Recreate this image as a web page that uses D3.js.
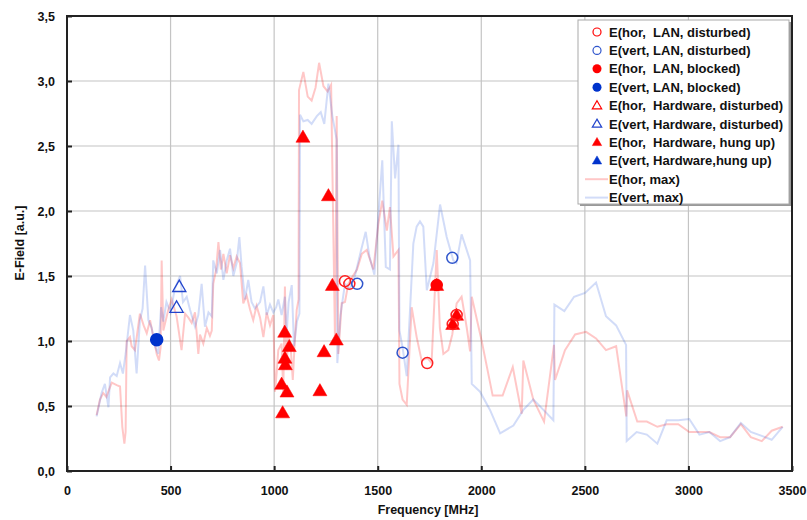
<!DOCTYPE html>
<html>
<head>
<meta charset="utf-8">
<script src="https://cdn.jsdelivr.net/npm/d3@7"></script>
<style>
  body { margin: 0; background: #fff; }
  text { font-family: Arial, "Liberation Sans", sans-serif; font-weight: bold; fill: #111; }
</style>
</head>
<body>
<div id="chart"></div>
<script>
// values
var horFreq = [143,159,175,190,216,240,256,267,277,283,288,304,312,328,352,370,385,401,417,433,444,452,457,465,489,505,529,553,570,586,602,618,634,642,658,675,690,699,706,720,731,743,755,771,787,803,819,835,851,867,884,899,915,932,948,964,980,996,1004,1012,1020,1036,1044,1052,1060,1068,1080,1090,1100,1109,1118,1120,1141,1162,1181,1200,1217,1238,1258,1275,1294,1302,1310,1326,1342,1358,1380,1400,1423,1447,1479,1503,1522,1544,1559,1576,1600,1605,1620,1640,1664,1688,1712,1740,1760,1785,1800,1817,1841,1860,1881,1905,1930,1946,1954,2002,2055,2103,2152,2195,2203,2251,2303,2351,2356,2404,2453,2506,2554,2602,2651,2700,2704,2753,2799,2850,2895,2951,3004,3053,3101,3153,3201,3253,3301,3354,3402,3455]
var horMax = [0.43,0.55,0.60,0.57,0.68,0.66,0.65,0.34,0.21,0.30,1.00,1.03,0.96,0.93,1.21,1.12,1.06,1.16,1.03,0.90,0.85,0.95,1.62,1.08,1.24,1.32,1.19,0.93,1.21,1.18,1.14,1.22,0.90,1.05,0.98,1.10,1.04,1.08,1.44,1.55,1.76,1.55,1.67,1.52,1.66,1.56,1.65,1.60,1.29,1.35,1.24,1.16,1.27,1.18,1.03,1.22,1.12,1.20,0.61,0.75,0.93,0.98,0.60,1.42,0.78,1.05,0.95,0.70,1.01,1.24,1.32,2.93,3.07,2.88,2.85,2.95,3.14,2.96,2.92,2.97,0.98,2.73,0.90,1.29,1.30,1.44,1.50,1.55,1.67,1.70,1.55,1.90,2.08,1.85,2.03,1.65,1.70,0.67,0.55,0.51,1.26,1.03,0.85,0.87,0.83,1.70,1.10,0.90,0.93,1.05,1.29,1.34,1.10,0.92,1.34,1.00,0.58,0.58,0.80,0.44,0.85,0.55,0.38,0.97,0.70,0.93,1.05,1.07,1.02,0.93,0.96,0.42,0.62,0.38,0.38,0.34,0.36,0.36,0.30,0.30,0.30,0.26,0.26,0.36,0.26,0.23,0.31,0.34]

var vertFreq = [143,167,183,200,208,224,240,256,270,283,304,320,336,352,365,377,393,409,425,440,454,465,480,500,520,546,560,578,594,618,634,650,666,683,699,706,723,739,755,771,787,803,819,832,843,859,875,891,907,932,948,964,980,996,1010,1020,1036,1052,1060,1070,1085,1096,1110,1122,1125,1141,1162,1181,1206,1225,1242,1262,1281,1302,1305,1320,1342,1365,1390,1420,1442,1460,1484,1503,1522,1539,1559,1568,1584,1600,1605,1620,1640,1672,1688,1704,1720,1737,1769,1801,1833,1865,1880,1905,1946,1954,1994,2042,2091,2155,2203,2251,2300,2348,2353,2401,2448,2501,2554,2602,2651,2699,2702,2750,2799,2850,2895,2951,3004,3053,3101,3153,3201,3253,3301,3354,3402,3455]
var vertMax = [0.42,0.60,0.67,0.49,0.72,0.75,0.73,0.83,0.75,0.90,1.20,1.08,0.75,1.16,1.25,1.58,1.16,1.10,0.96,0.90,1.26,1.15,1.30,1.22,1.40,1.50,1.30,1.34,1.24,1.11,1.20,1.44,1.11,1.22,1.19,1.62,1.52,1.70,1.47,1.62,1.71,1.50,1.60,1.80,1.57,1.32,1.47,1.30,1.25,1.30,1.42,1.20,1.28,1.22,1.26,1.32,1.20,1.34,1.05,1.30,1.43,0.96,1.15,1.21,2.74,2.69,2.70,2.67,2.73,2.76,2.67,2.98,2.73,2.55,0.83,1.20,1.44,1.40,1.50,1.70,1.84,1.65,1.51,1.96,2.39,1.57,1.55,2.69,2.25,2.51,1.08,0.95,0.73,1.75,1.88,1.92,1.88,1.39,1.60,2.05,1.80,1.62,1.60,1.82,1.62,0.67,0.61,0.47,0.29,0.35,0.47,0.55,0.47,0.39,1.28,1.23,1.34,1.37,1.45,1.19,1.12,0.97,0.23,0.30,0.28,0.21,0.39,0.39,0.40,0.28,0.30,0.23,0.26,0.37,0.30,0.27,0.24,0.34]

// markers [freq, value]
var horLanDisturbed = [[1342,1.46],[1363,1.44],[1739,0.83],[1862,1.13],[1881,1.20]]
var vertLanDisturbed = [[1401,1.44],[1620,0.91],[1860,1.64]]
var horLanBlocked = [[1785,1.43]]
var vertLanBlocked = [[433,1.01]]
var horHwDisturbed = []
var vertHwDisturbed = [[542,1.41],[529,1.25]]
var horHwHung = [[1139,2.56],[1262,2.11],[1051,1.06],[1073,0.95],[1052,0.86],[1054,0.81],[1036,0.66],[1062,0.60],[1041,0.44],[1221,0.61],[1241,0.91],[1300,1.00],[1281,1.42],[1785,1.42],[1862,1.12],[1881,1.19]]
var vertHwHung = []

var xTicks = [0,500,1000,1500,2000,2500,3000,3500]
var yTicks = [0,0.5,1,1.5,2,2.5,3,3.5]

var legendLabels = ["E(hor,  LAN, disturbed)","E(vert, LAN, disturbed)","E(hor,  LAN, blocked)","E(vert, LAN, blocked)",
  "E(hor,  Hardware, disturbed)","E(vert, Hardware, disturbed)","E(hor,  Hardware, hung up)","E(vert, Hardware,hung up)",
  "E(hor, max)","E(vert, max)"]

var W = 807, H = 520
var red = "#ff0000", blue = "#0033cc"

var svg = d3.select("#chart").append("svg").attr("width", W).attr("height", H)

var x = d3.scaleLinear().domain([0, 3500]).range([67, 792])
var y = d3.scaleLinear().domain([0, 3.5]).range([471, 16])

// grid
svg.append("g").selectAll("line").data(xTicks.slice(1, -1)).enter().append("line")
  .attr("x1", d => x(d)).attr("x2", d => x(d)).attr("y1", y(3.5)).attr("y2", y(0))
  .attr("stroke", "#c4c4c4").attr("stroke-width", 1.2)
svg.append("g").selectAll("line").data(yTicks.slice(1, -1)).enter().append("line")
  .attr("x1", x(0)).attr("x2", x(3500)).attr("y1", d => y(d)).attr("y2", d => y(d))
  .attr("stroke", "#c4c4c4").attr("stroke-width", 1.2)

// lines
var line = d3.line().x(d => x(d[0])).y(d => y(d[1]))
var horData = horFreq.map((f, i) => [f, horMax[i]])
var vertData = vertFreq.map((f, i) => [f, vertMax[i]])
svg.append("path").datum(horData).attr("d", line)
  .attr("fill", "none").attr("stroke", red).attr("stroke-opacity", 0.22).attr("stroke-width", 2)
svg.append("path").datum(vertData).attr("d", line)
  .attr("fill", "none").attr("stroke", "#3060e0").attr("stroke-opacity", 0.22).attr("stroke-width", 2)

// axes
var fmt = d => d.toFixed(1).replace(".", ",")
var xAxis = svg.append("g").attr("transform", `translate(0,${y(0)})`)
  .call(d3.axisBottom(x).tickValues(xTicks).tickFormat(d3.format("d")).tickSizeInner(-5).tickSizeOuter(0).tickPadding(15))
var yAxis = svg.append("g").attr("transform", `translate(${x(0)},0)`)
  .call(d3.axisLeft(y).tickValues(yTicks).tickFormat(fmt).tickSizeInner(-5).tickSizeOuter(0).tickPadding(12))
;[xAxis, yAxis].forEach(a => {
  a.select(".domain").remove()
  a.selectAll(".tick line").attr("stroke", "#222").attr("stroke-width", 2)
  a.selectAll("text").attr("font-size", 12.5).attr("font-family", "Arial, 'Liberation Sans', sans-serif")
    .attr("font-weight", "bold").attr("fill", "#111")
})

// frame
svg.append("rect").attr("x", x(0)).attr("y", y(3.5)).attr("width", x(3500) - x(0)).attr("height", y(0) - y(3.5))
  .attr("fill", "none").attr("stroke", "#222").attr("stroke-width", 2)

// markers
function circles(data, filled, color, r) {
  svg.append("g").selectAll("circle").data(data).enter().append("circle")
    .attr("cx", d => x(d[0])).attr("cy", d => y(d[1])).attr("r", r)
    .attr("fill", filled ? color : "none").attr("stroke", color).attr("stroke-width", 1.5)
}
function triangles(data, filled, color, size) {
  svg.append("g").selectAll("path").data(data).enter().append("path")
    .attr("d", d3.symbol().type(d3.symbolTriangle).size(size))
    .attr("transform", d => `translate(${x(d[0])},${y(d[1])})`)
    .attr("fill", filled ? color : "none").attr("stroke", color).attr("stroke-width", filled ? 0.5 : 1.3)
}
triangles(vertHwDisturbed, false, "#2244cc", 75)
triangles(horHwDisturbed, false, red, 75)
circles(vertLanBlocked, true, blue, 6)
circles(horLanBlocked, true, red, 5.5)
triangles(horHwHung, true, red, 85)
triangles(vertHwHung, true, blue, 85)
circles(horLanDisturbed, false, "#ff2020", 5.5)
circles(vertLanDisturbed, false, "#2f55cc", 5.5)

// axis titles
svg.append("text").attr("x", 428).attr("y", 514).attr("text-anchor", "middle").attr("font-size", 12.5)
  .text("Frequency [MHz]")
svg.append("text").attr("transform", "translate(24,243) rotate(-90)").attr("text-anchor", "middle").attr("font-size", 12.5)
  .text("E-Field [a.u.]")

// legend
var lg = svg.append("g")
lg.append("rect").attr("x", 580).attr("y", 22).attr("width", 211).attr("height", 184).attr("fill", "#999")
lg.append("rect").attr("x", 578).attr("y", 20).attr("width", 211).attr("height", 184)
  .attr("fill", "#fff").attr("stroke", "#aaa").attr("stroke-width", 1)
var rowY = i => 32 + i * 18.4
var mx = 597
legendLabels.forEach((t, i) => {
  lg.append("text").attr("x", 609).attr("y", rowY(i) + 4.5).attr("font-size", 13)
    .attr("xml:space", "preserve").style("white-space", "pre").text(t)
})
lg.append("circle").attr("cx", mx).attr("cy", rowY(0)).attr("r", 4).attr("fill", "none").attr("stroke", red).attr("stroke-width", 1.2)
lg.append("circle").attr("cx", mx).attr("cy", rowY(1)).attr("r", 4).attr("fill", "none").attr("stroke", "#2f55cc").attr("stroke-width", 1.2)
lg.append("circle").attr("cx", mx).attr("cy", rowY(2)).attr("r", 4.5).attr("fill", red)
lg.append("circle").attr("cx", mx).attr("cy", rowY(3)).attr("r", 4.5).attr("fill", blue)
var legTri = [[4, false, red], [5, false, "#2244cc"], [6, true, red], [7, true, blue]]
legTri.forEach(d => {
  lg.append("path").attr("d", d3.symbol().type(d3.symbolTriangle).size(38))
    .attr("transform", `translate(${mx},${rowY(d[0]) + 0.5})`)
    .attr("fill", d[1] ? d[2] : "none").attr("stroke", d[2]).attr("stroke-width", d[1] ? 0.5 : 1.2)
})
lg.append("line").attr("x1", 585).attr("x2", 608).attr("y1", rowY(8)).attr("y2", rowY(8))
  .attr("stroke", red).attr("stroke-opacity", 0.22).attr("stroke-width", 2)
lg.append("line").attr("x1", 585).attr("x2", 608).attr("y1", rowY(9)).attr("y2", rowY(9))
  .attr("stroke", "#3060e0").attr("stroke-opacity", 0.22).attr("stroke-width", 2)
</script>
</body>
</html>
